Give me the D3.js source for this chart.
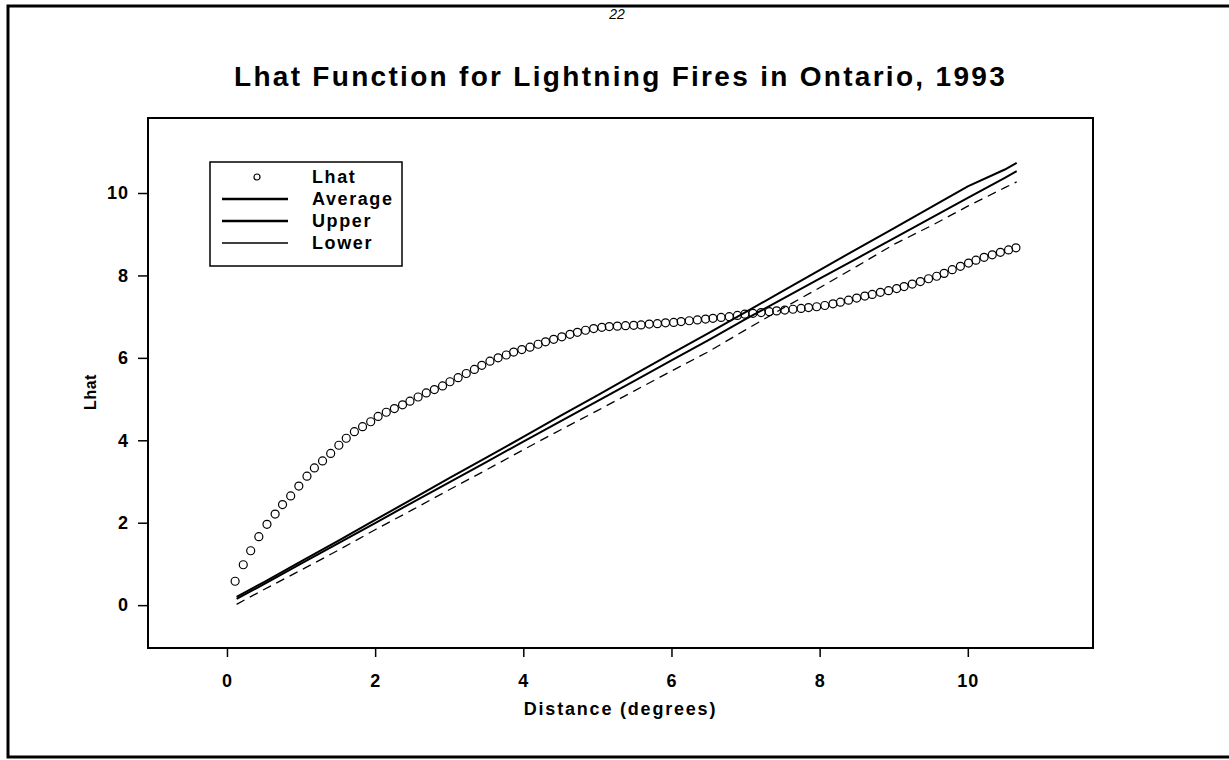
<!DOCTYPE html>
<html>
<head>
<meta charset="utf-8">
<script src="https://cdn.jsdelivr.net/npm/d3@7"></script>
<style>
  body { margin: 0; background: #fff; }
  text { font-family: "Liberation Sans", Arial, Helvetica, sans-serif; font-weight: bold; fill: #000; }
</style>
</head>
<body>
<script>
/*
 * Lhat function for lightning fires in Ontario, 1993.
 * Observed Lhat values are drawn as open circles, the simulation
 * envelope (average, upper, lower) as lines.
*/

var WIDTH = 1229;
var HEIGHT = 760;

// Distances (degrees) at which Lhat was evaluated.
var LHAT_X = [0.11, 0.22, 0.32, 0.43, 0.54, 0.65, 0.75, 0.86, 0.97, 1.08,
              1.18, 1.29, 1.40, 1.51, 1.61, 1.72, 1.83, 1.94, 2.04, 2.15,
              2.26, 2.37, 2.47, 2.58, 2.69, 2.80, 2.91, 3.01, 3.12, 3.23,
              3.34, 3.44, 3.55, 3.66, 3.77, 3.87, 3.98, 4.09, 4.20, 4.30,
              4.41, 4.52, 4.63, 4.73, 4.84, 4.95, 5.06, 5.16, 5.27, 5.38,
              5.49, 5.59, 5.70, 5.81, 5.92, 6.03, 6.13, 6.24, 6.35, 6.46,
              6.56, 6.67, 6.78, 6.89, 6.99, 7.10, 7.21, 7.32, 7.42, 7.53,
              7.64, 7.75, 7.85, 7.96, 8.07, 8.18, 8.28, 8.39, 8.50, 8.61,
              8.71, 8.82, 8.93, 9.04, 9.14, 9.25, 9.36, 9.47, 9.58, 9.68,
              9.79, 9.90, 10.01, 10.11, 10.22, 10.33, 10.44, 10.55, 10.65];

// Observed Lhat values.
var LHAT_Y = [0.58, 0.98, 1.32, 1.66, 1.96, 2.21, 2.44, 2.65, 2.89, 3.13,
              3.33, 3.50, 3.68, 3.88, 4.05, 4.21, 4.33, 4.45, 4.58, 4.68,
              4.77, 4.86, 4.95, 5.05, 5.15, 5.23, 5.32, 5.42, 5.52, 5.62,
              5.72, 5.82, 5.92, 6.00, 6.07, 6.14, 6.20, 6.26, 6.33, 6.39,
              6.45, 6.51, 6.57, 6.62, 6.67, 6.71, 6.74, 6.76, 6.77, 6.78,
              6.79, 6.80, 6.82, 6.83, 6.85, 6.86, 6.88, 6.90, 6.92, 6.94,
              6.96, 6.98, 7.00, 7.03, 7.06, 7.08, 7.10, 7.12, 7.14, 7.16,
              7.18, 7.20, 7.22, 7.24, 7.27, 7.31, 7.35, 7.40, 7.45, 7.50,
              7.54, 7.59, 7.63, 7.68, 7.73, 7.79, 7.85, 7.92, 7.98, 8.05,
              8.14, 8.22, 8.30, 8.37, 8.44, 8.50, 8.56, 8.62, 8.67];

// Distances for the envelope lines.
var ENV_X = [0.13, 0.5, 1.0, 1.5, 2.0, 2.5, 3.0, 3.5, 4.0, 4.5, 5.0, 5.5,
             6.0, 6.5, 7.0, 7.5, 8.0, 8.5, 9.0, 9.5, 10.0, 10.5, 10.66];

var AVERAGE_Y = [0.15, 0.51, 1.01, 1.50, 1.99, 2.49, 2.98, 3.47, 3.97, 4.46, 4.95, 5.44,
                 5.94, 6.43, 6.94, 7.43, 7.92, 8.41, 8.90, 9.39, 9.88, 10.37, 10.53];

var UPPER_Y = [0.20, 0.56, 1.06, 1.56, 2.07, 2.57, 3.08, 3.58, 4.08, 4.59, 5.09, 5.60,
               6.10, 6.60, 7.11, 7.62, 8.13, 8.64, 9.14, 9.65, 10.16, 10.57, 10.73];

var LOWER_Y = [0.02, 0.38, 0.85, 1.33, 1.83, 2.31, 2.80, 3.28, 3.77, 4.25, 4.72, 5.20,
               5.68, 6.15, 6.68, 7.20, 7.70, 8.22, 8.75, 9.20, 9.68, 10.13, 10.27];

var X_TICKS = [0, 2, 4, 6, 8, 10];
var Y_TICKS = [0, 2, 4, 6, 8, 10];

var LEGEND_LABELS = ["Lhat", "Average", "Upper", "Lower"];

// Plot region in page pixels.
var plot = { left: 148, top: 118, right: 1093, bottom: 648 };

var svg = d3.select("body").append("svg")
            .attr("width", WIDTH)
            .attr("height", HEIGHT);

// Scanned page border (top, left and bottom edges only).
svg.append("path")
   .attr("d", "M1229,6 L8,6 L8,757 L1229,757")
   .attr("fill", "none")
   .attr("stroke", "#000")
   .attr("stroke-width", 3);

// Page number at the top of the scan.
svg.append("text")
   .attr("x", 617)
   .attr("y", 19)
   .attr("text-anchor", "middle")
   .style("font-size", "14px")
   .style("font-style", "italic")
   .style("font-weight", "normal")
   .text("22");

var x = d3.scaleLinear().domain([-1.066, 11.69]).range([plot.left, plot.right]);
var y = d3.scaleLinear().domain([-1.04, 11.82]).range([plot.bottom, plot.top]);

// Title centred over the plot region.
svg.append("text")
   .attr("x", (plot.left + plot.right) / 2)
   .attr("y", 86)
   .attr("text-anchor", "middle")
   .style("font-size", "28px")
   .style("letter-spacing", "2.3px")
   .text("Lhat Function for Lightning Fires in Ontario, 1993");

// Axes: ticks point outward, the frame is drawn separately.
var xAxis = svg.append("g")
               .attr("transform", "translate(0," + plot.bottom + ")")
               .call(d3.axisBottom(x).tickValues(X_TICKS).tickSize(9).tickPadding(17).tickFormat(d3.format("d")));

var yAxis = svg.append("g")
               .attr("transform", "translate(" + plot.left + ",0)")
               .call(d3.axisLeft(y).tickValues(Y_TICKS).tickSize(10).tickPadding(9).tickFormat(d3.format("d")));

[xAxis, yAxis].forEach(function(g) {
  g.select(".domain").remove();
  g.selectAll(".tick line").attr("stroke", "#000").attr("stroke-width", 1.5);
  g.selectAll(".tick text")
   .attr("fill", "#000")
   .style("font-size", "18px")
   .style("font-family", "'Liberation Sans', Arial, sans-serif")
   .style("font-weight", "bold")
   .style("letter-spacing", "1px");
});

svg.append("rect")
   .attr("x", plot.left)
   .attr("y", plot.top)
   .attr("width", plot.right - plot.left)
   .attr("height", plot.bottom - plot.top)
   .attr("fill", "none")
   .attr("stroke", "#000")
   .attr("stroke-width", 2);

// Axis labels.
svg.append("text")
   .attr("x", (plot.left + plot.right) / 2)
   .attr("y", 715)
   .attr("text-anchor", "middle")
   .style("font-size", "18px")
   .style("letter-spacing", "1.8px")
   .text("Distance (degrees)");

svg.append("text")
   .attr("transform", "translate(96,392) rotate(-90)")
   .attr("text-anchor", "middle")
   .style("font-size", "16px")
   .style("letter-spacing", "0.5px")
   .text("Lhat");

// Envelope lines.
function envLine(values) {
  return d3.line()
           .x(function(d, i) { return x(ENV_X[i]); })
           .y(function(d) { return y(d); })(values);
}

svg.append("path")
   .attr("d", envLine(LOWER_Y))
   .attr("fill", "none")
   .attr("stroke", "#000")
   .attr("stroke-width", 1.3)
   .attr("stroke-dasharray", "9,6");

svg.append("path")
   .attr("d", envLine(AVERAGE_Y))
   .attr("fill", "none")
   .attr("stroke", "#000")
   .attr("stroke-width", 2);

svg.append("path")
   .attr("d", envLine(UPPER_Y))
   .attr("fill", "none")
   .attr("stroke", "#000")
   .attr("stroke-width", 2);

// Observed Lhat as open circles.
svg.append("g")
   .selectAll("circle")
   .data(LHAT_Y)
   .enter().append("circle")
   .attr("cx", function(d, i) { return x(LHAT_X[i]); })
   .attr("cy", function(d) { return y(d); })
   .attr("r", 4)
   .attr("fill", "none")
   .attr("stroke", "#000")
   .attr("stroke-width", 1.2);

// Legend box.
var legend = svg.append("g").attr("transform", "translate(210,162)");

legend.append("rect")
      .attr("width", 192)
      .attr("height", 104)
      .attr("fill", "#fff")
      .attr("stroke", "#000")
      .attr("stroke-width", 1.5);

var rows = legend.selectAll("g.row")
                 .data(LEGEND_LABELS)
                 .enter().append("g")
                 .attr("class", "row")
                 .attr("transform", function(d, i) { return "translate(0," + (15 + i * 22) + ")"; });

rows.append("text")
    .attr("x", 102)
    .attr("dy", "0.35em")
    .style("font-size", "18px")
    .style("letter-spacing", "1.6px")
    .text(function(d) { return d; });

rows.filter(function(d) { return d === "Lhat"; })
    .append("circle")
    .attr("cx", 47)
    .attr("r", 3)
    .attr("fill", "none")
    .attr("stroke", "#000")
    .attr("stroke-width", 1.2);

rows.filter(function(d) { return d !== "Lhat"; })
    .append("line")
    .attr("x1", 12)
    .attr("x2", 78)
    .attr("stroke", "#000")
    .attr("stroke-width", function(d) { return d === "Lower" ? 1.3 : 2.5; });
</script>
</body>
</html>
